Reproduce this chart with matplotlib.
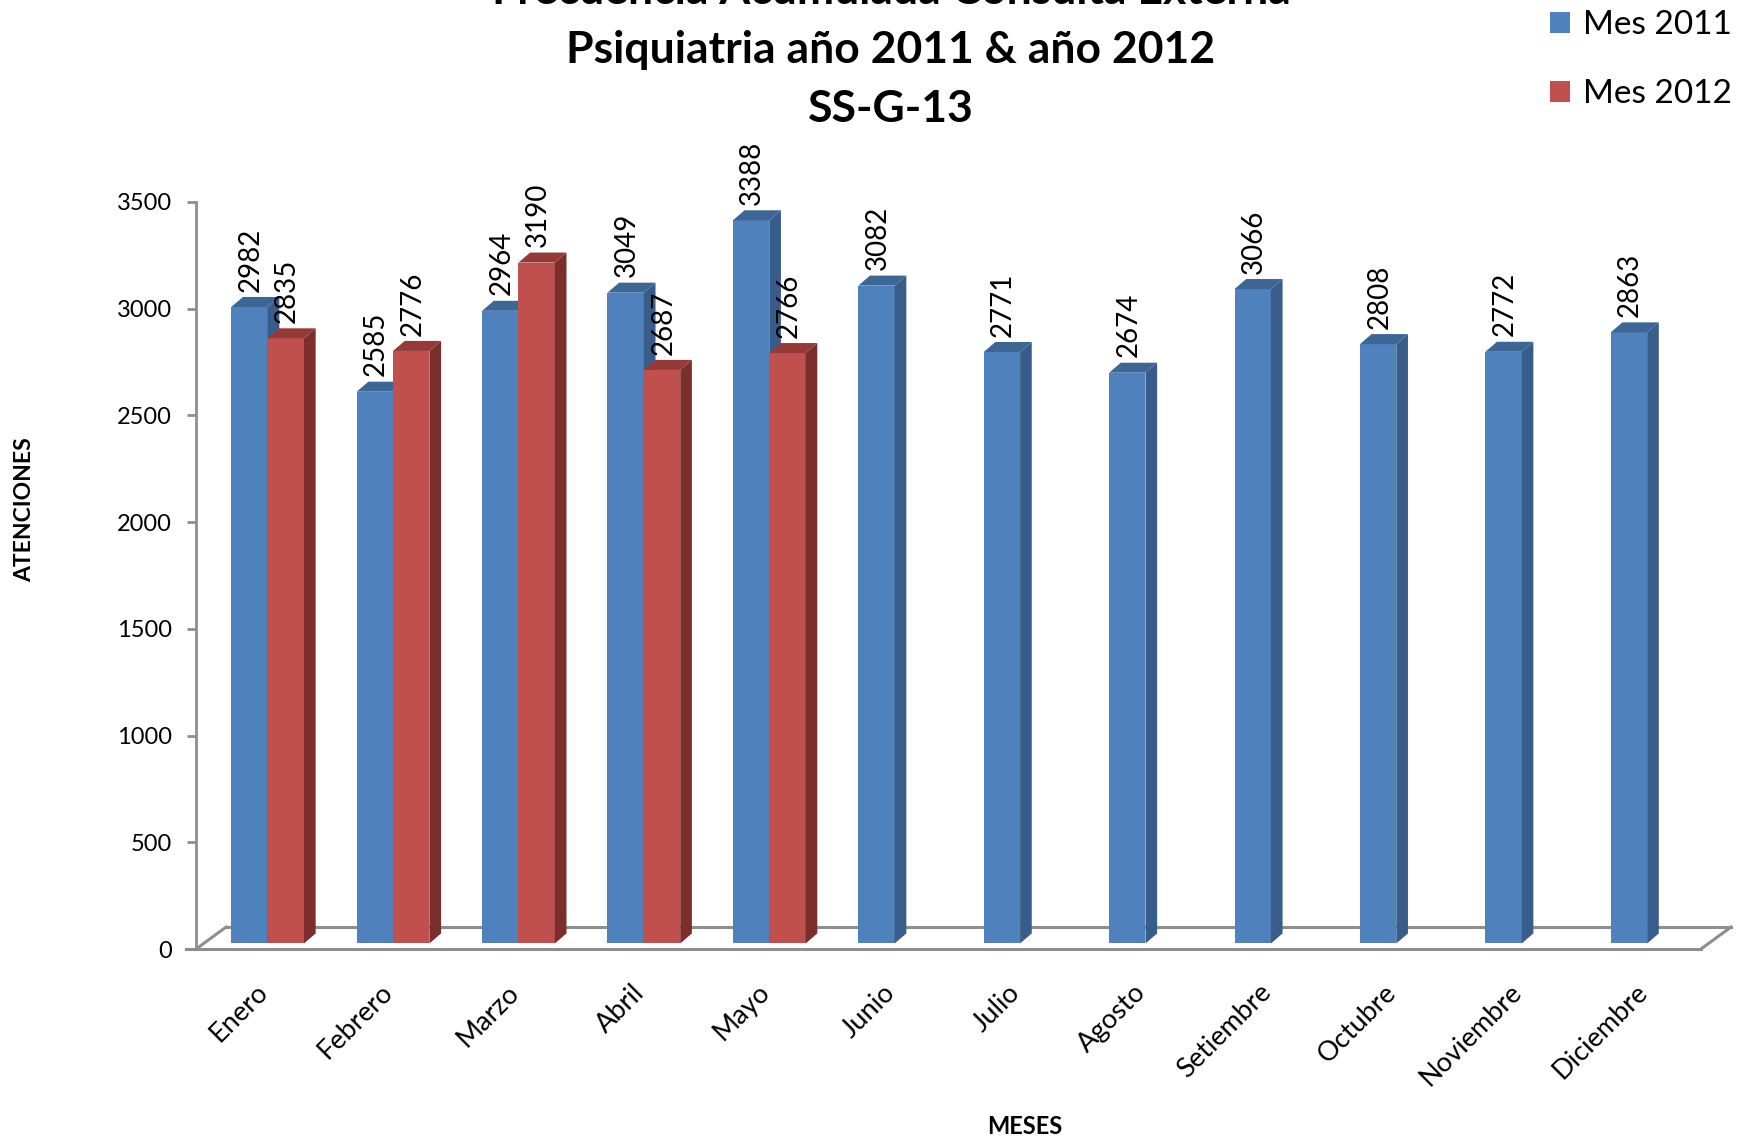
import matplotlib.pyplot as plt
from matplotlib.patches import Polygon

plt.rcParams['font.family'] = ['Lato', 'DejaVu Sans']

# data
meses = ['Enero', 'Febrero', 'Marzo', 'Abril', 'Mayo', 'Junio', 'Julio',
         'Agosto', 'Setiembre', 'Octubre', 'Noviembre', 'Diciembre']
mes_2011 = [2982, 2585, 2964, 3049, 3388, 3082, 2771, 2674, 3066, 2808, 2772, 2863]
mes_2012 = [2835, 2776, 3190, 2687, 2766]

# fake 3d geometry (data units)
FX, FY = 0.071, 26      # shift of the bar front faces from the floor front edge
SX, SY = 0.093, 47      # bar depth
DX, DY = 0.24, 103      # floor depth
W = 0.29

blue = ('#4f81bd', '#385d8a', '#3c6694')
red = ('#c0504d', '#7b2f2d', '#953a37')

fig = plt.figure(figsize=(17.44, 11.43), dpi=100)
ax = fig.add_axes([0.1124, 0.1697, 0.8629, 0.6536])
ax.set_xlim(-0.5, 11.5)
ax.set_ylim(0, 3500)

# floor
grey = '#8e8e8e'
ax.plot([-0.5 + DX, 11.5 + DX], [DY, DY], color=grey, lw=2.2, clip_on=False, zorder=1)
ax.plot([-0.5, -0.5 + DX], [0, DY], color=grey, lw=2.2, clip_on=False, zorder=1)
ax.plot([11.5, 11.5 + DX], [0, DY], color=grey, lw=2.2, clip_on=False, zorder=1)
ax.plot([-0.58, 11.5], [0, 0], color=grey, lw=2.2, clip_on=False, zorder=1)


def bar3d(x0, v, cols, label=None):
    face, side, top = cols
    b = ax.bar(x0, v, W, bottom=FY, align='edge', color=face, zorder=3, label=label)
    x1 = x0 + W
    ax.add_patch(Polygon([(x1, FY), (x1 + SX, FY + SY), (x1 + SX, FY + v + SY), (x1, FY + v)],
                         closed=True, facecolor=side, edgecolor='none', zorder=3))
    ax.add_patch(Polygon([(x0, FY + v), (x0 + SX, FY + v + SY), (x1 + SX, FY + v + SY), (x1, FY + v)],
                         closed=True, facecolor=top, edgecolor='none', zorder=3))
    ax.text(x0 + W / 2 + 0.01, FY + v + SY + 25, str(v), rotation=90, ha='center', va='bottom',
            fontsize=20, zorder=4)
    return b


h1 = h2 = None
for i, v in enumerate(mes_2011):
    b = bar3d(i - W + FX, v, blue, 'Mes 2011')
    h1 = h1 or b
for i, v in enumerate(mes_2012):
    b = bar3d(i + FX, v, red, 'Mes 2012')
    h2 = h2 or b

# axes styling
for s in ['top', 'right', 'bottom']:
    ax.spines[s].set_visible(False)
ax.spines['left'].set_color(grey)
ax.spines['left'].set_linewidth(2)
ax.set_yticks(range(0, 3501, 500))
ax.tick_params(axis='y', length=6.5, width=2, color=grey, pad=11, labelsize=17)
ax.set_xticks([i - 0.03 for i in range(len(meses))])
ax.set_xticklabels(meses, rotation=45, ha='right', va='top', rotation_mode='anchor', fontsize=19.5)
ax.tick_params(axis='x', length=0, pad=22)

fig.text(25 / 1744, 1 - 510 / 1143, 'ATENCIONES', rotation=90, ha='center', va='center',
         fontsize=16.5, fontweight='bold')
fig.text(1025 / 1744, 1 - 1126 / 1143, 'MESES', ha='center', va='center',
         fontsize=17, fontweight='bold')

# title (first line partly outside the picture, as in the original)
titulo = ['Frecuencia Acumulada Consulta Externa', 'Psiquiatria año 2011 & año 2012', 'SS-G-13']
for t, yb in zip(titulo, [4, 63, 122]):
    fig.text(891 / 1744, 1 - yb / 1143, t, ha='center', va='baseline', fontsize=32, fontweight='bold')

fig.legend([h1, h2], ['Mes 2011', 'Mes 2012'], loc='upper left',
           bbox_to_anchor=(1550 / 1744, 1 - 10 / 1143), frameon=False, fontsize=24,
           borderpad=0, borderaxespad=0,
           handlelength=0.6, handleheight=0.6, handletextpad=0.4, labelspacing=1.18)

fig.savefig('out.png', dpi=100)
